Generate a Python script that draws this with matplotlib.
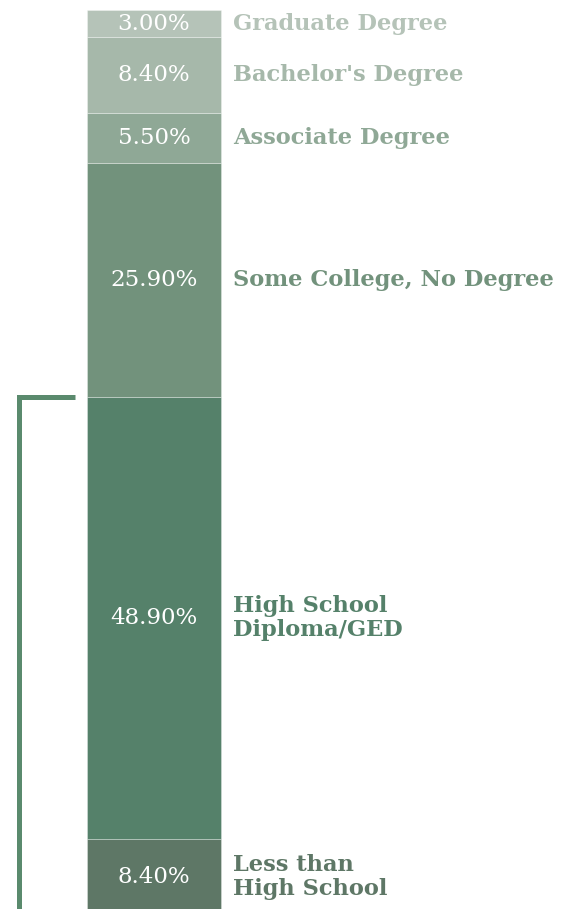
import numpy as np
import matplotlib.pyplot as plt

# education levels, bottom of the bar to top
levels = ['Less than\nHigh School', 'High School\nDiploma/GED', 'Some College, No Degree',
          'Associate Degree', "Bachelor's Degree", 'Graduate Degree']
shares = [8.4, 48.9, 25.9, 5.5, 8.4, 3.0]
colors = ['#5e7766', '#55816a', '#72927c', '#8fa896', '#a6b8aa', '#b5c3b8']

plt.rcParams['font.family'] = ['DejaVu Serif']

fig = plt.figure(figsize=(5.74, 9.09), dpi=100)
ax = fig.add_axes([0, 0, 1, 1])

bottoms = np.concatenate([[0], np.cumsum(shares)[:-1]])
bar_x = 1.54
bar_w = 1.34
ax.bar(bar_x, shares, bottom=bottoms, width=bar_w, color=colors,
       edgecolor=(1, 1, 1, 0.35), linewidth=0.6)

for lvl, val, b, c in zip(levels, shares, bottoms, colors):
    mid = b + val / 2
    ax.text(bar_x, mid, f'{val:.2f}%', ha='center', va='center',
            color='white', fontsize=16.5)
    ax.text(2.33, mid, lvl, ha='left', va='center', color=c,
            fontsize=16.2, fontweight='bold', linespacing=1.15)

# bracket around high school or less
hs_or_less = shares[0] + shares[1]
ax.plot([0.75, 0.19, 0.19], [hs_or_less, hs_or_less, -5], color='#5a8a6d',
        linewidth=3.6, solid_joinstyle='miter', solid_capstyle='butt')

ax.set_xlim(0, 5.74)
ax.set_ylim(0.65, 101.2)
ax.axis('off')

fig.savefig('out.png', dpi=100)
